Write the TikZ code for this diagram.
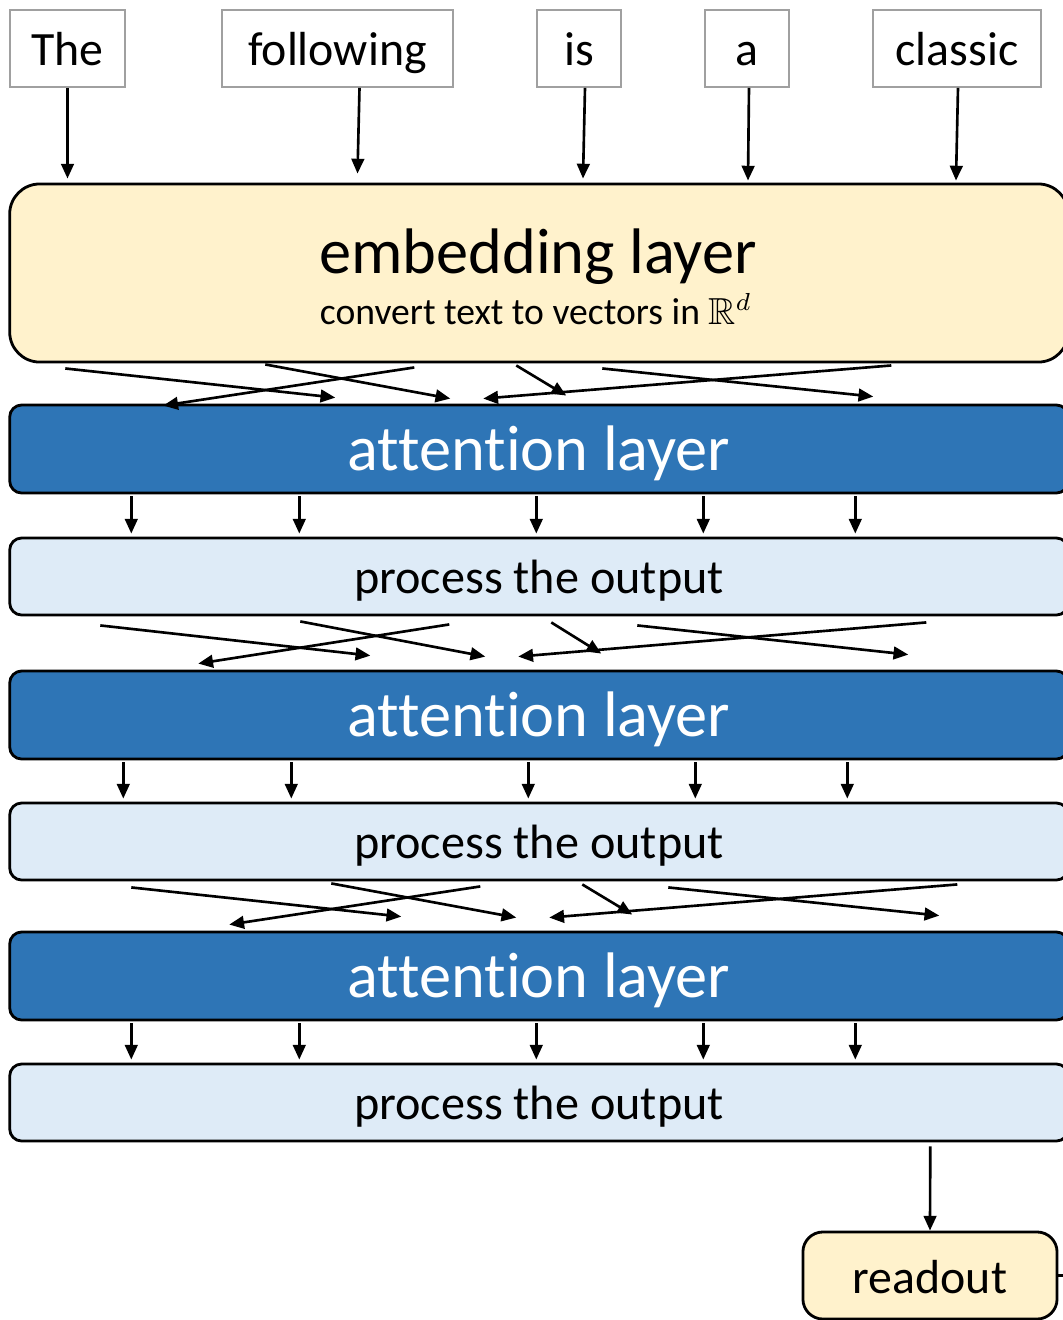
\documentclass[tikz,border=0pt]{standalone}
\usepackage{amssymb}
\usepackage{fontspec}
\setmainfont{Carlito}[Ligatures=NoCommon]
\usetikzlibrary{positioning,arrows.meta,calc}

\definecolor{embyellow}{HTML}{FFF2CC}
\definecolor{attblue}{HTML}{2E75B6}
\definecolor{procblue}{HTML}{DEEBF7}
\definecolor{wordgray}{HTML}{A0A0A0}

\begin{document}
\begin{tikzpicture}[x=0.01cm, y=-0.01cm,
        wordbox/.style={draw=wordgray, line width=0.5pt, fill=white, minimum height=0.77cm, inner sep=0pt, text height=0.43cm, text depth=0.1cm, font=\fontsize{13.6}{16}\selectfont},
        layerbox/.style={draw=black, line width=0.8pt, minimum width=10.58cm, inner sep=0pt},
        embbox/.style={layerbox, fill=embyellow, rounded corners=0.3cm, minimum height=1.78cm},
        attbox/.style={layerbox, fill=attblue, text=white, rounded corners=0.12cm, minimum height=0.88cm, text height=0.52cm, text depth=0.1cm, font=\fontsize{18.3}{21}\selectfont},
        procbox/.style={layerbox, fill=procblue, rounded corners=0.12cm, minimum height=0.77cm, text height=0.43cm, text depth=0.1cm, font=\fontsize{13.7}{16}\selectfont},
        outbox/.style={draw=black, line width=0.8pt, fill=embyellow, rounded corners=0.2cm, minimum width=2.54cm, minimum height=0.87cm, inner sep=0pt, text height=0.45cm, text depth=0.1cm, font=\fontsize{13.6}{16}\selectfont},
        arr/.style={line width=0.75pt, -{Triangle[length=4.2pt,width=3.6pt]}}]
        \useasboundingbox (0,0) rectangle (1063,1320);

        % input words
        \node[wordbox, minimum width=1.15cm] (w1) at (67.5,48.5) {The};
        \node[wordbox, minimum width=2.31cm] (w2) at (337.5,48.5) {following};
        \node[wordbox, minimum width=0.84cm] (w3) at (579,48.5) {is};
        \node[wordbox, minimum width=0.84cm] (w4) at (747,48.5) {a};
        \node[wordbox, minimum width=1.68cm] (w5) at (957,48.5) {classic};

        % layers
        \node[embbox] (emb) at (539,273) {};
        \node[anchor=base, font=\fontsize{18.3}{21}\selectfont] (embtitle) at (538,273) {embedding layer};
        \node[anchor=base, font=\fontsize{10.7}{12}\selectfont] (embsub) at (536,324) {convert text to vectors in $\mathbb{R}^d$};
        \node[attbox] (att1) at (539,449) {attention layer};
        \node[procbox] (proc1) at (539,576.5) {process the output};
        \node[attbox] (att2) at (539,715) {attention layer};
        \node[procbox] (proc2) at (539,841.5) {process the output};
        \node[attbox] (att3) at (539,976) {attention layer};
        \node[procbox] (proc3) at (539,1102.5) {process the output};
        \node[outbox] (out) at (930,1275.5) {readout};
        \coordinate (next) at (1080,1275.5);

        % words into the embedding
        \foreach \w/\dx/\ex/\ey in {w1/0/0/-4, w2/22/20/-9, w3/6/4/-4, w4/2/1/-2, w5/1/-1/-2}
            \draw[arr] ($(\w.south)+(\dx,0)$) -- ($(\w.south |- emb.north)+(\ex,\ey)$);

        % mixing between tokens
        \foreach \u/\l/\s/\t/\e in {emb/att1/0/0/0, proc1/att2/35/4/-8, proc2/att3/66/1/-8}
            \foreach \ax/\ay/\bx/\by in {57/5/327/-6, 406/4/155/2, 257/1/442/-5, 508/2/558/-8, 883/2/475/-5, 594/5/865/-7}
                \draw[arr] ($(\u.south west)+(\ax+\s,\ay+\t)$) -- ($(\l.north west)+(\bx+\s,\by+\e)$);

        % each token on its own
        \foreach \a/\p/\s in {att1/proc1/0, att2/proc2/-8, att3/proc3/0}
            \foreach \x in {123,291,528,695,847}
                \draw[arr] ($(\a.south west)+(\x+\s,2)$) -- ($(\p.north west)+(\x+\s,-3)$);

        \draw[arr] ($(proc3.south west)+(922,4)$) -- (out.north);
        \draw[line width=0.75pt] (out.east) -- (next);
\end{tikzpicture}
\end{document}
